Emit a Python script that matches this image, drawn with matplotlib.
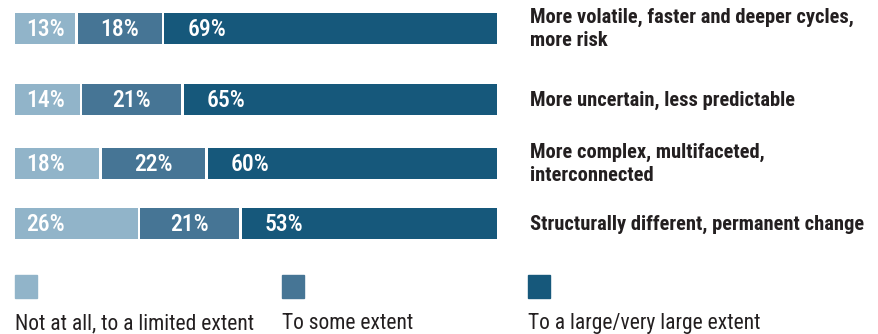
import matplotlib.pyplot as plt
from matplotlib.patches import Rectangle

plt.rcParams['font.family'] = ['Roboto Condensed', 'DejaVu Sans']

statements = ["More volatile, faster and deeper cycles,\nmore risk",
              "More uncertain, less predictable",
              "More complex, multifaceted,\ninterconnected",
              "Structurally different, permanent change"]
limited = [13, 14, 18, 26]
some = [18, 21, 22, 21]
large = [69, 65, 60, 53]
legend_labels = ["Not at all, to a limited extent", "To some extent",
                 "To a large/very large extent"]
colors = ["#91b4c9", "#467595", "#16587b"]

W, H = 879, 334
fig = plt.figure(figsize=(W / 100, H / 100), dpi=100)

# bars: 0..100% spans pixel 15..497, y axis in pixels (top down)
ax = fig.add_axes([15 / W, 0, 482 / W, 1])
ax.set_xlim(0, 100)
ax.set_ylim(H, 0)
ax.axis('off')

ypos = [28.5, 99.5, 163.5, 223.5]
bar_h = 31
gap = 0.55
offsets = [8, None, 16.5]

for i, y in enumerate(ypos):
    vals = [limited[i], some[i], large[i]]
    left = 0
    for j, v in enumerate(vals):
        w = v - gap if j < 2 else v
        ax.barh(y, w, left=left, height=bar_h, color=colors[j])
        if offsets[j] is None:
            ax.text(left + w / 2, y + 1, f"{v}%", color='white', fontsize=17,
                    fontweight='medium', ha='center', va='center')
        else:
            ax.annotate(f"{v}%", (left, y + 1), xytext=(offsets[j], 0),
                        textcoords='offset points', color='white', fontsize=17,
                        fontweight='medium', ha='left', va='center')
        left += v
    ax.annotate(statements[i], (100, y + 0.5), xytext=(24, 0),
                textcoords='offset points', fontsize=14.8, fontweight='bold',
                color='#231f20', ha='left', va='center', linespacing=1.25)

# legend
for x, lab, c in zip([15, 282, 528], legend_labels, colors):
    fig.patches.append(Rectangle((x / W, 1 - 298 / H), 22 / W, 23 / H,
                                 transform=fig.transFigure, color=c))
    fig.text(x / W, 1 - 329 / H, lab, fontsize=15.5, color='#231f20',
             ha='left', va='baseline')

fig.savefig('out.png', dpi=100)
